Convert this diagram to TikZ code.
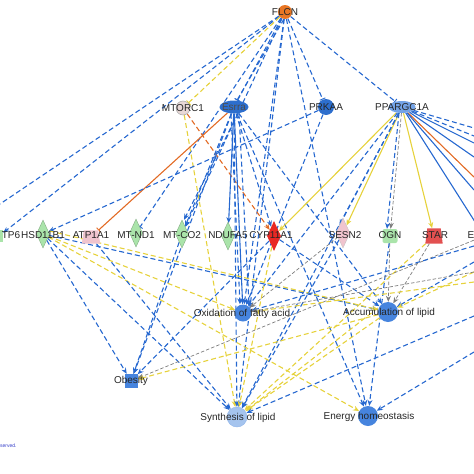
\documentclass[tikz,border=0pt]{standalone}
\usepackage{fontspec}
\setmainfont{Liberation Sans}
\usetikzlibrary{arrows.meta,shapes.geometric}
\pgfdeclarelayer{bg}
\pgfsetlayers{bg,main}
\definecolor{eb}{RGB}{38,104,208}
\definecolor{ey}{RGB}{230,210,60}
\definecolor{eo}{RGB}{226,106,36}
\definecolor{eg}{RGB}{125,125,125}
\definecolor{nblue}{RGB}{70,132,222}
\definecolor{ndblue}{RGB}{45,110,205}
\definecolor{nlblue}{RGB}{165,196,238}
\definecolor{ngreen}{RGB}{170,228,170}
\definecolor{npink}{RGB}{240,196,206}
\definecolor{nred}{RGB}{232,40,36}
\definecolor{nred2}{RGB}{226,80,80}
\definecolor{norange}{RGB}{232,118,36}
\definecolor{ngray}{RGB}{232,216,214}
\begin{document}
\begin{tikzpicture}[x=1pt,y=-1pt,
  lbl/.style={font=\fontsize{10}{11}\selectfont, text=black!85, inner sep=0pt},
  ln/.style={line width=1.1pt},
  dp/.style={dash pattern=on 5pt off 3pt},
  tip/.style={-{Stealth[length=6pt,width=5pt]}},
  tbar/.style={-{Bar[width=6pt,line width=0.9pt]}},
  bd/.style={ln, draw=eb, dp, tip},
  bdn/.style={ln, draw=eb, dp},
  bt/.style={ln, draw=eb, dp, tbar},
  bs/.style={ln, draw=eb, tip},
  bsn/.style={ln, draw=eb},
  yd/.style={ln, draw=ey, dp, tip},
  ydn/.style={ln, draw=ey, dp},
  ydt/.style={ln, draw=ey, dp, tbar},
  ys/.style={ln, draw=ey, tip},
  os/.style={ln, draw=eo, tbar},
  osn/.style={ln, draw=eo},
  od/.style={ln, draw=eo, dp, tip},
  gd/.style={line width=0.7pt, draw=eg, dash pattern=on 3.5pt off 2pt, tip},
  dia/.style={diamond, draw=ngreen!70!black, line width=0.3pt, fill=ngreen, minimum width=13pt, minimum height=28pt, inner sep=0pt},
  circ/.style={circle, inner sep=0pt, minimum size=#1},
  trap/.style={rectangle, inner sep=0pt, minimum width=#1, minimum height=13pt},
]
\clip (0,0) rectangle (474,474);

% ---------- nodes ----------
\node[circ=14pt, fill=norange] (flcn) at (285,12) {};
\node[circ=14pt, fill=ngray, draw=black!35, line width=0.5pt] (mtorc) at (183,108) {};
\node[ellipse, fill=ndblue, minimum width=29pt, minimum height=13pt, inner sep=0pt] (esrra) at (234,107) {};
\node[circ=16pt, fill=ndblue] (prkaa) at (326,107) {};
\node[ellipse, fill=nblue!75!white, minimum width=27pt, minimum height=12pt, inner sep=0pt] (ppar) at (402,107) {};

\node[rectangle, fill=ngreen, minimum width=8pt, minimum height=12pt, inner sep=0pt] (tp6) at (-1,236) {};
\node[dia] (hsd) at (43,234) {};
\node[trap=18pt] (atp) at (91,237) {};
\fill[npink] ([xshift=2pt]atp.north west) -- ([xshift=-2pt]atp.north east) -- (atp.south east) -- (atp.south west) -- cycle;
\node[dia] (mtnd) at (136,233) {};
\node[dia] (mtco) at (182,234) {};
\node[dia] (ndufa) at (228,236) {};
\node[diamond, fill=nred, minimum width=14pt, minimum height=30pt, inner sep=0pt] (cyp) at (274,236) {};
\node[diamond, fill=npink, draw=black!25, line width=0.3pt, minimum width=14pt, minimum height=30pt, inner sep=0pt] (sesn) at (343,233) {};
\node[rectangle, rounded corners=2pt, fill=ngreen, minimum width=15pt, minimum height=14pt, inner sep=0pt] (ogn) at (390,236) {};
\node[trap=17pt, minimum height=15pt] (star) at (434,236) {};
\fill[nred2] ([xshift=2pt]star.north west) -- ([xshift=-2pt]star.north east) -- (star.south east) -- (star.south west) -- cycle;
\coordinate (e) at (484,236);

\node[circ=17pt, fill=nblue] (oxi) at (243,313) {};
\node[circ=20pt, fill=nblue] (acc) at (388,312) {};
\node[rectangle, fill=nblue, minimum width=13pt, minimum height=14pt, inner sep=0pt] (obe) at (131,381) {};
\node[circ=20pt, fill=nlblue, draw=nblue!60, line width=0.4pt] (syn) at (237,417) {};
\node[circ=20pt, fill=nblue] (ene) at (368,416) {};

% off-picture ends
\coordinate (l1) at (0,204);
\coordinate (r1) at (474,128);
\coordinate (r2) at (474,136);
\coordinate (r3) at (474,143);
\coordinate (r4) at (474,157);
\coordinate (r5) at (474,177);
\coordinate (r6) at (474,190);
\coordinate (r7) at (474,246);
\coordinate (r8) at (474,262);
\coordinate (r9) at (474,272);
\coordinate (r10) at (474,316);
\coordinate (r11) at (474,352);
\coordinate (r12) at (474,282);

% ---------- edges ----------
\begin{pgfonlayer}{bg}
% FLCN
\draw[bdn] (flcn) -- (l1);
\draw[bd] (flcn) -- (tp6);
\draw[ydt] (flcn) -- (mtorc);
\draw[bt] (flcn) -- (esrra);
\draw[bt] ([xshift=3pt]flcn.center) -- ([xshift=3pt]esrra.north);
\draw[bt] (flcn) -- (mtnd);
\draw[bd] (flcn) -- (mtco);
\draw[bd] (flcn) -- (oxi);
\draw[bd] (flcn) -- (syn);
\draw[bt] (flcn) -- (prkaa);
\draw[bd] (flcn) -- (ene);
\draw[bt] (flcn) -- (ppar);
% MTORC1
\draw[od] (mtorc) -- (cyp);
\draw[yd] (mtorc) -- (syn);
% Esrra
\draw[os] (esrra) -- (atp);
\draw[bs] (esrra) -- (ndufa);
\draw[bd] (esrra) -- (mtco);
\draw[bd] ([xshift=4pt]esrra.south) -- ([xshift=2pt]mtco.north);
\draw[bs] (esrra) -- (oxi);
\draw[bd] ([xshift=-3pt]esrra.south) -- ([xshift=-3pt]oxi.north);
\draw[bd] ([xshift=5pt]esrra.south) -- (oxi.north east);
\draw[bd] (esrra) -- (syn);
\draw[bd] (esrra) -- (cyp);
\draw[bd] (esrra) -- (acc);
\draw[bd] (esrra) -- (ene);
\draw[bd] (esrra) -- (obe);
% PRKAA
\draw[bd] (prkaa) -- (hsd);
\draw[bd] (prkaa) -- (oxi);
% PPARGC1A
\draw[ys] (ppar) -- (sesn);
\draw[ys] (ppar) -- (star);
\draw[ys] (ppar) -- (cyp);
\draw[gd] (ppar) -- (ogn);
\draw[bd] ([xshift=-3pt]ppar.south) -- ([xshift=-3pt]ogn.north);
\draw[bd] (ppar) -- (syn);
\draw[bd] (ppar) -- (oxi);
\draw[bd] (ppar) -- (sesn.north west);
\draw[bdn] (ppar) -- (r1);
\draw[bdn] (ppar) -- (r2);
\draw[bsn] (ppar) -- (r3);
\draw[bsn] (ppar) -- (r4);
\draw[osn] (ppar) -- (r5);
\draw[bsn] (ppar) -- (r6);
\draw[bsn] (ppar) -- (e);
% gene row to functions
\draw[bd] (hsd) -- (obe);
\draw[bd] (hsd) -- (syn);
\draw[bd] (hsd) -- (acc);
\draw[yd] (hsd) -- (oxi);
\draw[yd] (hsd) -- (ene);
\draw[yd] ([yshift=3pt]hsd.east) -- (acc);
\draw[bd] (atp) -- (syn);
\draw[bd] (mtco) -- (obe);
\draw[bd] (cyp) -- (obe);
\draw[yd] (cyp) -- (syn);
\draw[bd] (cyp) -- (acc);
\draw[gd] (sesn) -- (oxi);
\draw[bd] (sesn) -- (syn);
\draw[gd] (ogn) -- (acc);
\draw[bd] (ogn) -- (ene);
\draw[gd] (star) -- (acc);
\draw[yd] (star) -- (syn);
\draw[gd] (e) -- (obe);
\draw[yd] (acc) -- (obe);
\draw[yd] (acc) -- (syn);
\draw[yd] ([yshift=4pt]acc.west) -- ([xshift=3pt]syn.north east);
\draw[bd] (r7) -- (oxi);
\draw[bd] (r8) -- (acc);
\draw[yd] (r9) -- (acc);
\draw[ydn] (r12) -- (oxi);
\draw[gd] (r9) -- (oxi);
\draw[bd] (r10) -- (syn);
\draw[bd] (r11) -- (ene);
\end{pgfonlayer}

% ---------- labels ----------
\node[lbl] (flcn-t) at (285,12) {FLCN};
\node[lbl] (mtorc-t) at (183,108) {MTORC1};
\node[lbl, text=black!70] (esrra-t) at (234,107) {Esrra};
\node[lbl] (prkaa-t) at (326,107) {PRKAA};
\node[lbl] (ppar-t) at (402,107) {PPARGC1A};
\node[lbl] (tp6-t) at (11,235) {TP6};
\node[lbl] (hsd-t) at (43,235) {HSD11B1};
\node[lbl] (atp-t) at (91,235) {ATP1A1};
\node[lbl] (mtnd-t) at (136,235) {MT-ND1};
\node[lbl] (mtco-t) at (182,235) {MT-CO2};
\node[lbl] (ndufa-t) at (228,235) {NDUFA5};
\node[lbl] (cyp-t) at (271,235) {CYP11A1};
\node[lbl] (sesn-t) at (345,235) {SESN2};
\node[lbl] (ogn-t) at (390,235) {OGN};
\node[lbl] (star-t) at (435,235) {STAR};
\node[lbl] (e-t) at (471,235) {E};
\node[lbl] (oxi-t) at (242,314) {Oxidation of fatty acid};
\node[lbl] (acc-t) at (389,313) {Accumulation of lipid};
\node[lbl] (obe-t) at (131,381) {Obesity};
\node[lbl] (syn-t) at (238,418) {Synthesis of lipid};
\node[lbl] (ene-t) at (369,417) {Energy homeostasis};
\node[font=\fontsize{5}{6}\selectfont, text={rgb,255:red,50;green,60;blue,200}, anchor=west, inner sep=0pt] (copy) at (0,446) {served.};
\end{tikzpicture}
\end{document}
